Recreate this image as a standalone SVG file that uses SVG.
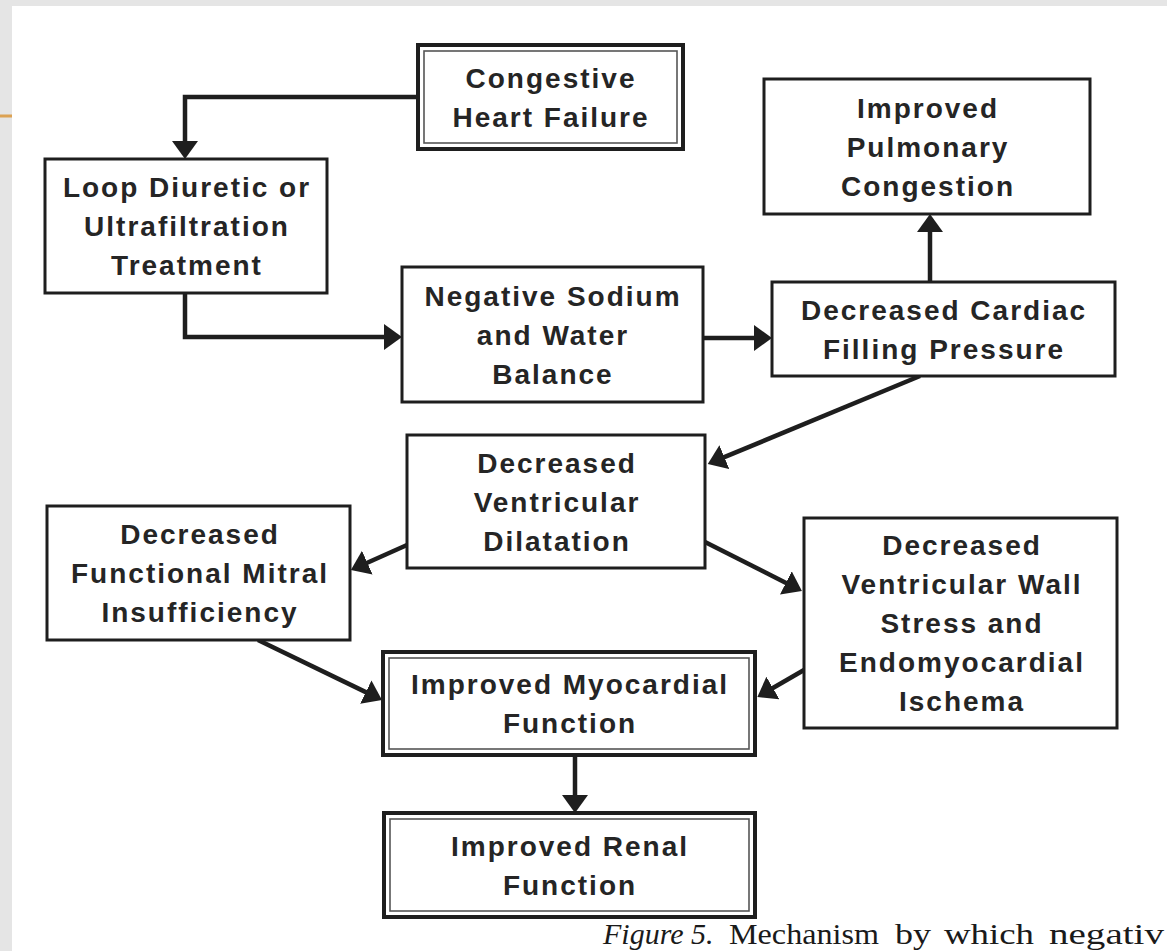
<svg xmlns="http://www.w3.org/2000/svg" width="1167" height="951" viewBox="0 0 1167 951">
  <style>
    .box { fill: #ffffff; stroke: #1e1e1e; stroke-width: 3; }
    .outer { fill: #ffffff; stroke: #1e1e1e; stroke-width: 4; }
    .inner { fill: none; stroke: #555555; stroke-width: 1.6; }
    .lbl { font-family: "Liberation Sans", Arial, sans-serif; font-weight: bold; font-size: 28px; letter-spacing: 2px; fill: #252525; text-anchor: middle; }
    .conn { fill: none; stroke: #1e1e1e; stroke-width: 4.5; marker-end: url(#ah); }
    .cap { font-family: "Liberation Serif", "Times New Roman", serif; font-size: 30px; fill: #1a1a1a; }
  </style>
  <defs>
    <marker id="ah" markerUnits="userSpaceOnUse" markerWidth="22" markerHeight="28" refX="8" refY="13" orient="auto">
      <path d="M0,0 L18,13 L0,26 Z" fill="#1e1e1e"/>
    </marker>
  </defs>

  <!-- page background and white sheet -->
  <rect x="0" y="0" width="1167" height="951" fill="#e5e5e5"/>
  <rect x="12" y="6" width="1155" height="945" fill="#ffffff"/>
  <rect x="0" y="114.5" width="12" height="3" fill="#dca253"/>

  <!-- connectors -->
  <g id="connectors">
    <path class="conn" d="M418,97 H185 V149"/>
    <path class="conn" d="M185,293 V337 H392"/>
    <path class="conn" d="M703,338 H762"/>
    <path class="conn" d="M930,282 V224"/>
    <path class="conn" d="M920,376 L717,460.2"/>
    <path class="conn" d="M407,545 L360,566"/>
    <path class="conn" d="M705,542 L793,586.5"/>
    <path class="conn" d="M258,640 L373,695.6"/>
    <path class="conn" d="M804,670 L766,692"/>
    <path class="conn" d="M575,755 V803"/>
  </g>

  <g id="chf">
    <rect class="outer" x="418" y="45" width="265" height="104"/>
    <rect class="inner" x="424" y="51" width="253" height="92"/>
    <text class="lbl" x="551" y="88">Congestive</text>
    <text class="lbl" x="551" y="127">Heart Failure</text>
  </g>

  <g id="loop">
    <rect class="box" x="45" y="159" width="282" height="134"/>
    <text class="lbl" x="187" y="197">Loop Diuretic or</text>
    <text class="lbl" x="187" y="236">Ultrafiltration</text>
    <text class="lbl" x="187" y="275">Treatment</text>
  </g>

  <g id="sodium">
    <rect class="box" x="402" y="267" width="301" height="135"/>
    <text class="lbl" x="553" y="305.5">Negative Sodium</text>
    <text class="lbl" x="553" y="344.5">and Water</text>
    <text class="lbl" x="553" y="383.5">Balance</text>
  </g>

  <g id="pulmonary">
    <rect class="box" x="764" y="79" width="326" height="135"/>
    <text class="lbl" x="928" y="117.5">Improved</text>
    <text class="lbl" x="928" y="156.5">Pulmonary</text>
    <text class="lbl" x="928" y="195.5">Congestion</text>
  </g>

  <g id="filling">
    <rect class="box" x="772" y="282" width="343" height="94"/>
    <text class="lbl" x="944" y="320">Decreased Cardiac</text>
    <text class="lbl" x="944" y="359">Filling Pressure</text>
  </g>

  <g id="dilatation">
    <rect class="box" x="407" y="435" width="298" height="133"/>
    <text class="lbl" x="557" y="472.5">Decreased</text>
    <text class="lbl" x="557" y="511.5">Ventricular</text>
    <text class="lbl" x="557" y="550.5">Dilatation</text>
  </g>

  <g id="mitral">
    <rect class="box" x="47" y="506" width="303" height="134"/>
    <text class="lbl" x="200" y="544">Decreased</text>
    <text class="lbl" x="200" y="583">Functional Mitral</text>
    <text class="lbl" x="200" y="622">Insufficiency</text>
  </g>

  <g id="wallstress">
    <rect class="box" x="804" y="518" width="313" height="210"/>
    <text class="lbl" x="962" y="555">Decreased</text>
    <text class="lbl" x="962" y="594">Ventricular Wall</text>
    <text class="lbl" x="962" y="633">Stress and</text>
    <text class="lbl" x="962" y="672">Endomyocardial</text>
    <text class="lbl" x="962" y="711">Ischema</text>
  </g>

  <g id="myocardial">
    <rect class="outer" x="383" y="652" width="372" height="103"/>
    <rect class="inner" x="389" y="658" width="360" height="91"/>
    <text class="lbl" x="570" y="694">Improved Myocardial</text>
    <text class="lbl" x="570" y="733">Function</text>
  </g>

  <g id="renal">
    <rect class="outer" x="384" y="813" width="371" height="104"/>
    <rect class="inner" x="390" y="819" width="359" height="92"/>
    <text class="lbl" x="570" y="855.5">Improved Renal</text>
    <text class="lbl" x="570" y="894.5">Function</text>
  </g>

  <!-- caption line -->
  <g id="caption">
    <text class="cap" x="603" y="944" font-style="italic">Figure 5.</text>
    <text class="cap" x="729" y="944" textLength="150" lengthAdjust="spacingAndGlyphs">Mechanism</text>
    <text class="cap" x="895" y="944" textLength="36" lengthAdjust="spacingAndGlyphs">by</text>
    <text class="cap" x="944" y="944" textLength="90" lengthAdjust="spacingAndGlyphs">which</text>
    <text class="cap" x="1049" y="944" textLength="115" lengthAdjust="spacingAndGlyphs">negativ</text>
  </g>
</svg>
